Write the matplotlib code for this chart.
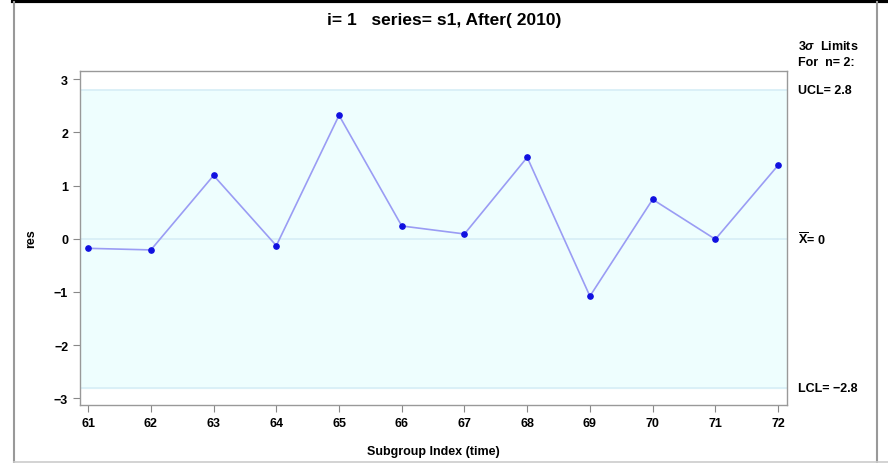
import numpy as np
from matplotlib import pyplot as plt
from matplotlib.lines import Line2D

plt.rcParams['font.family'] = ['Liberation Sans', 'DejaVu Sans']
plt.rcParams['font.weight'] = 'bold'
plt.rcParams['axes.labelweight'] = 'bold'
plt.rcParams['mathtext.fontset'] = 'custom'
plt.rcParams['mathtext.rm'] = 'Liberation Sans:bold'
plt.rcParams['mathtext.it'] = 'Liberation Sans:italic:bold'

subgroups = [61, 62, 63, 64, 65, 66, 67, 68, 69, 70, 71, 72]
res = [-0.18, -0.21, 1.19, -0.13, 2.32, 0.24, 0.09, 1.53, -1.08, 0.74, -0.01, 1.38]
ucl = 2.8
center = 0.0
lcl = -2.8
yticks = [-3, -2, -1, 0, 1, 2, 3]

fig = plt.figure(figsize=(8.88, 4.64), dpi=100)
ax = fig.add_axes([0.0901, 0.1256, 0.796, 0.72])

ax.axhspan(lcl, ucl, color='#eefefe', zorder=0)
for v in (ucl, center, lcl):
    ax.axhline(v, color='#d6eef6', linewidth=1.2, zorder=1)

ax.plot(subgroups, res, color='#9a9cf4', linewidth=1.2, zorder=2)
ax.plot(subgroups, res, 'o', color='#1010e0', markersize=3.8, zorder=3)

ax.set_xlim(60.87, 72.14)
ax.set_ylim(-3.12, 3.16)
ax.set_xticks(subgroups)
ax.set_yticks(yticks)
ax.tick_params(direction='out', length=5, color='#888888', labelsize=9)
for sp in ax.spines.values():
    sp.set_color('#999999')
    sp.set_linewidth(1.0)

ax.set_xlabel('Subgroup Index (time)', fontsize=9, labelpad=12)
ax.set_ylabel('res', fontsize=9, labelpad=12)

fig.text(0.5, 0.955, 'i= 1   series= s1, After( 2010)', ha='center', va='center',
         fontsize=12.5)

# control limit labels on the right
tx = 797.7 / 888
fig.text(tx, 1 - 47 / 464, r'3$\sigma$  Limits', fontsize=9, va='center')
fig.text(tx, 1 - 63 / 464, 'For  n= 2:', fontsize=9, va='center')
ax.annotate('UCL= 2.8', xy=(1, ucl), xycoords=('axes fraction', 'data'),
            xytext=(8, 0), textcoords='offset points', fontsize=9, va='center')
ax.annotate(r'$\overline{\rm X}$= 0', xy=(1, center), xycoords=('axes fraction', 'data'),
            xytext=(8, 0), textcoords='offset points', fontsize=9, va='center')
ax.annotate('LCL= \u22122.8', xy=(1, lcl), xycoords=('axes fraction', 'data'),
            xytext=(8, 0), textcoords='offset points', fontsize=9, va='center')

# outer frame
fig.add_artist(Line2D([13 / 888, 1], [1 - 2 / 464, 1 - 2 / 464], color='black', linewidth=3))
fig.add_artist(Line2D([13.5 / 888, 13.5 / 888], [1 - 462.5 / 464, 1 - 3 / 464], color='#999999', linewidth=1.5))
fig.add_artist(Line2D([877 / 888, 877 / 888], [1 - 462.5 / 464, 1 - 3 / 464], color='#999999', linewidth=1.5))
fig.add_artist(Line2D([13.5 / 888, 1], [1 - 462.5 / 464, 1 - 462.5 / 464], color='#cccccc', linewidth=1.2))

fig.savefig('out.png', dpi=100)
